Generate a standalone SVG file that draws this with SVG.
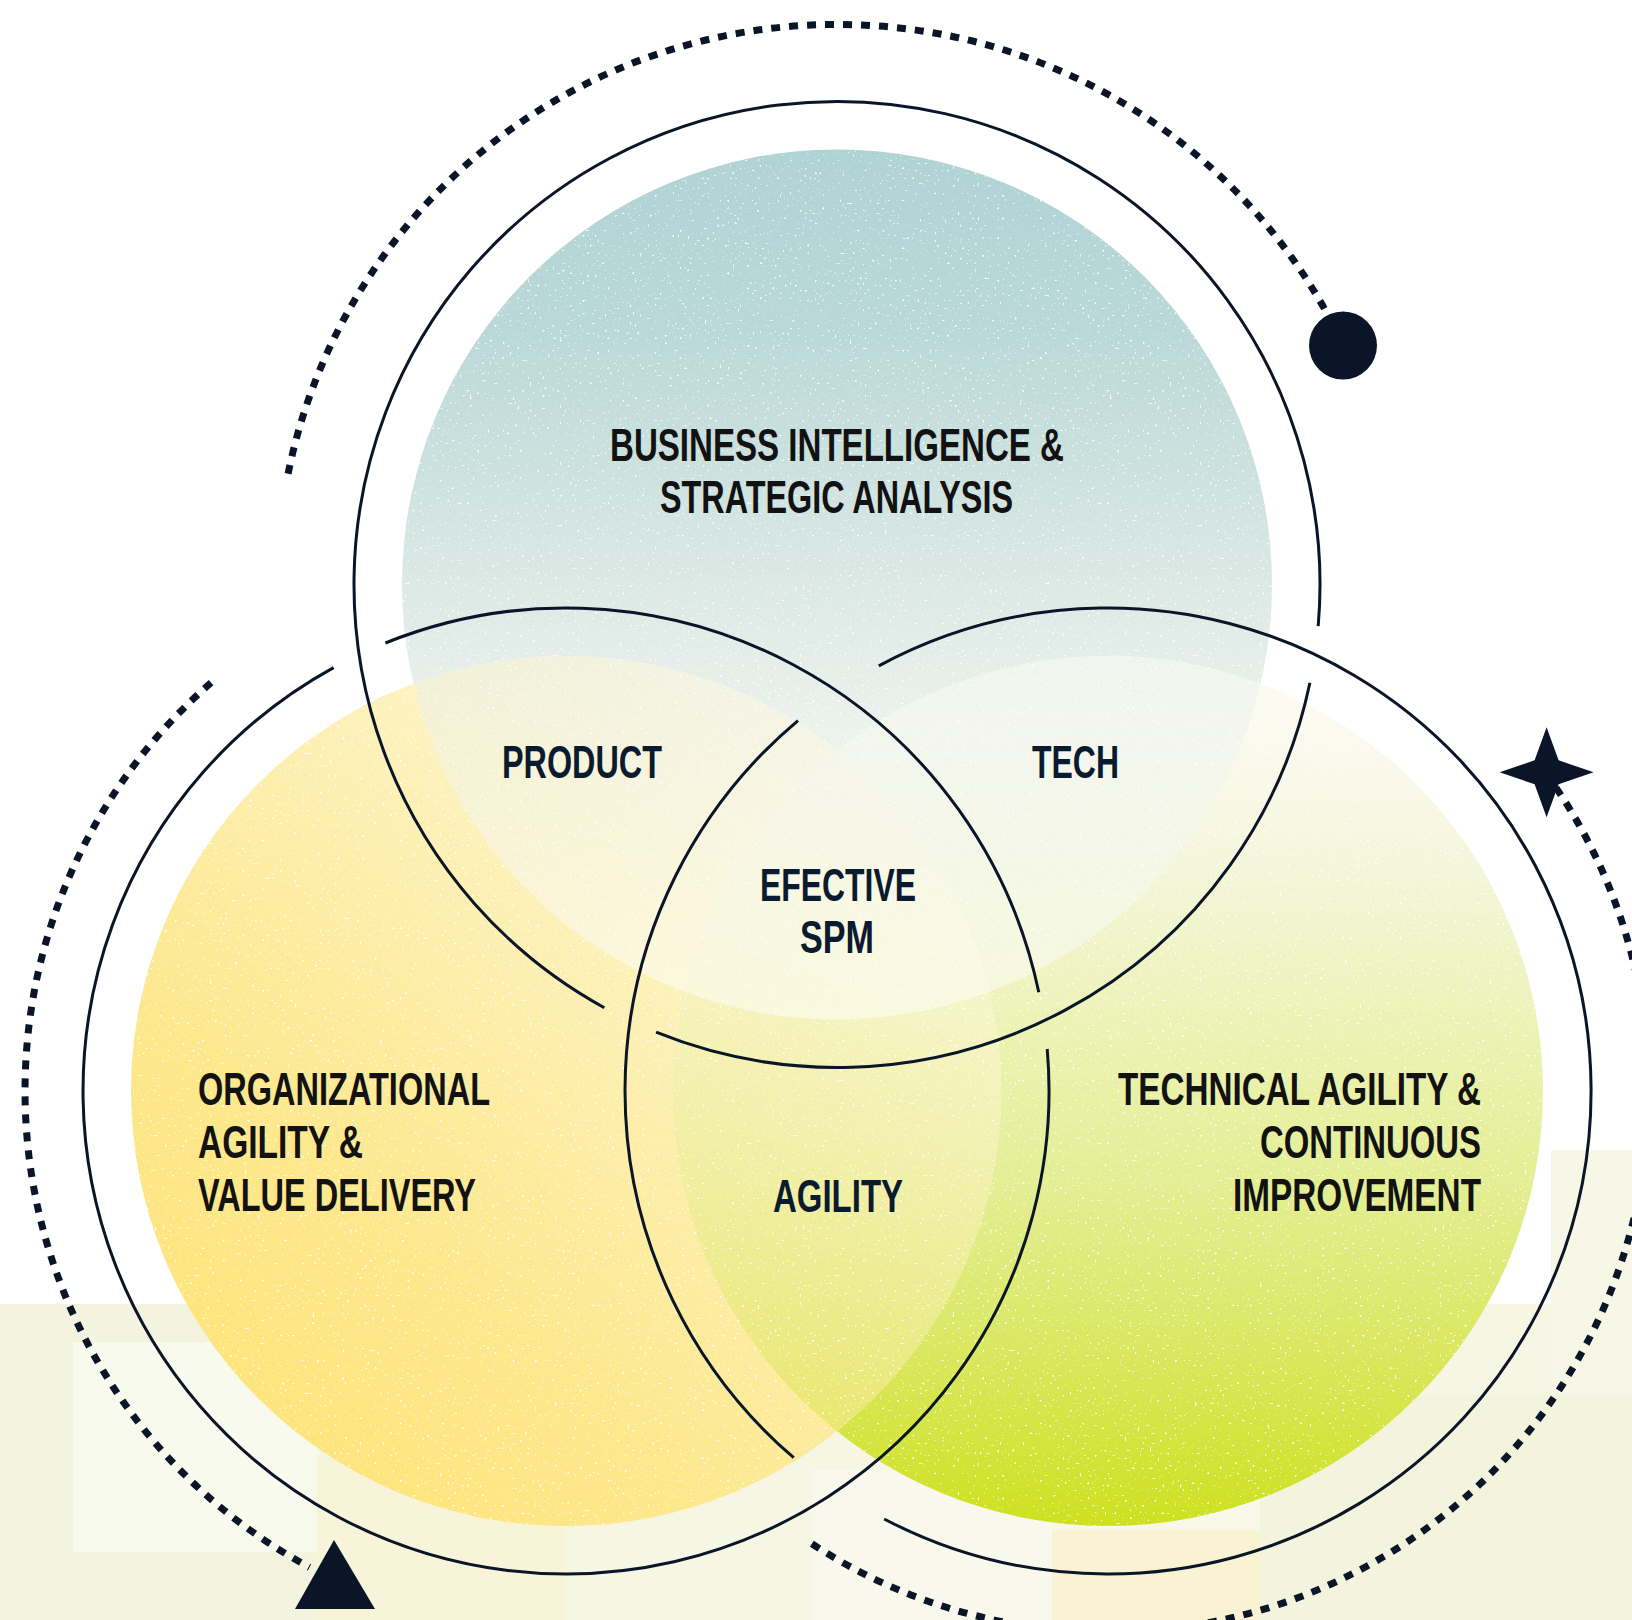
<svg xmlns="http://www.w3.org/2000/svg" width="1632" height="1620" viewBox="0 0 1632 1620">
  <style>
    .ring { fill: none; stroke: #0a1628; stroke-width: 3; stroke-linecap: butt; }
    .dots { fill: none; stroke: #0a1628; stroke-width: 7; stroke-dasharray: 9 9; }
    .mark { fill: #0a1628; }
    .title { font-family: "Liberation Sans", Arial, sans-serif; font-weight: 700; font-size: 47px; fill: #121212; }
    .lab { font-family: "Liberation Sans", Arial, sans-serif; font-weight: 700; font-size: 47px; fill: #0a1a2f; }
  </style>
  <defs>
    <linearGradient id="gTop" x1="0" y1="0" x2="0" y2="1">
      <stop offset="0" stop-color="#b0d3d4"/>
      <stop offset="0.2" stop-color="#bad8d8"/>
      <stop offset="0.36" stop-color="#cbe1de"/>
      <stop offset="0.5" stop-color="#dce9e5"/>
      <stop offset="0.65" stop-color="#ebf1ec"/>
      <stop offset="0.85" stop-color="#f7f9f3"/>
      <stop offset="1" stop-color="#ffffff"/>
    </linearGradient>
    <linearGradient id="gLeft" x1="0.9" y1="0.05" x2="0.1" y2="0.95">
      <stop offset="0" stop-color="#fffbec"/>
      <stop offset="0.4" stop-color="#fdf0b5"/>
      <stop offset="0.7" stop-color="#fde88e"/>
      <stop offset="1" stop-color="#fde377"/>
    </linearGradient>
    <linearGradient id="gRight" x1="0" y1="0" x2="0" y2="1">
      <stop offset="0" stop-color="#fdfcf5"/>
      <stop offset="0.1" stop-color="#fafaee"/>
      <stop offset="0.25" stop-color="#f3f6d9"/>
      <stop offset="0.45" stop-color="#ebf2b0"/>
      <stop offset="0.6" stop-color="#e4ee95"/>
      <stop offset="0.8" stop-color="#dae75f"/>
      <stop offset="1" stop-color="#cde11f"/>
    </linearGradient>
    <clipPath id="clipL"><circle cx="566" cy="1091" r="435"/></clipPath>
    <clipPath id="clipLR"><circle cx="566" cy="1091" r="435"/><circle cx="1108" cy="1091" r="435"/></clipPath>
    <clipPath id="clipAll"><circle cx="566" cy="1091" r="435"/><circle cx="1108" cy="1091" r="435"/><circle cx="837" cy="584.4" r="435"/></clipPath>
    <mask id="mNotL" maskUnits="userSpaceOnUse" x="0" y="0" width="1632" height="1620">
      <rect x="0" y="0" width="1632" height="1620" fill="#fff"/>
      <circle cx="566" cy="1091" r="435" fill="#000"/>
    </mask>
    <mask id="mNotLR" maskUnits="userSpaceOnUse" x="0" y="0" width="1632" height="1620">
      <rect x="0" y="0" width="1632" height="1620" fill="#fff"/>
      <circle cx="566" cy="1091" r="435" fill="#000"/>
      <circle cx="1108" cy="1091" r="435" fill="#000"/>
    </mask>
    <filter id="speck" filterUnits="userSpaceOnUse" x="0" y="0" width="1632" height="1620">
      <feTurbulence type="fractalNoise" baseFrequency="0.4" numOctaves="1" seed="11"/>
      <feColorMatrix type="matrix" values="0 0 0 0 1  0 0 0 0 1  0 0 0 0 1  0 0 0 18 -12.2"/>
    </filter>
  </defs>

  <rect x="0" y="0" width="1632" height="1620" fill="#ffffff"/>

  <g id="background">
    <rect x="0" y="1304" width="1632" height="316" fill="#f5f6e3"/>
    <rect x="0" y="1304" width="317" height="316" fill="#f3f4df"/>
    <rect x="73" y="1342" width="244" height="210" fill="#f9faee"/>
    <rect x="317" y="1457" width="249" height="163" fill="#f8f4da"/>
    <rect x="566" y="1551" width="246" height="69" fill="#f5f6e3"/>
    <rect x="812" y="1470" width="240" height="150" fill="#f8f9ec"/>
    <rect x="1052" y="1395" width="208" height="135" fill="#f7f8e8"/>
    <rect x="1052" y="1530" width="208" height="90" fill="#faf3d3"/>
    <rect x="1260" y="1395" width="372" height="225" fill="#f3f4dd"/>
    <rect x="1551" y="1150" width="81" height="245" fill="#f6f7e6"/>
  </g>

  <g id="fills">
    <circle cx="566" cy="1091" r="435" fill="url(#gLeft)"/>
    <circle cx="1108" cy="1091" r="435" fill="url(#gRight)" mask="url(#mNotL)"/>
    <circle cx="1108" cy="1091" r="435" fill="url(#gRight)" clip-path="url(#clipL)" opacity="0.5"/>
    <circle cx="837" cy="584.4" r="435" fill="url(#gTop)" mask="url(#mNotLR)"/>
    <circle cx="837" cy="584.4" r="435" fill="url(#gTop)" clip-path="url(#clipLR)" opacity="0.5"/>
  </g>

  <g id="speckle" clip-path="url(#clipAll)">
    <rect x="0" y="0" width="1632" height="1620" fill="#fff" filter="url(#speck)" opacity="0.85"/>
  </g>

  <g id="node-business-intelligence">
    <path class="ring" d="M1309.9,682.8 A483,483 0 0 1 656.1,1032.2"/>
    <path class="ring" d="M604.3,1007.7 A483,483 0 1 1 1318.2,626.1"/>
    <text class="title" x="610" y="461" textLength="454" lengthAdjust="spacingAndGlyphs">BUSINESS INTELLIGENCE &amp;</text>
    <text class="title" x="660" y="513" textLength="353" lengthAdjust="spacingAndGlyphs">STRATEGIC ANALYSIS</text>
  </g>

  <g id="node-organizational-agility">
    <path class="ring" d="M385.4,643.0 A483,483 0 0 1 1038.8,992.3"/>
    <path class="ring" d="M1047.2,1049.0 A483,483 0 1 1 333.6,667.6"/>
    <text class="title" x="198" y="1105" textLength="292" lengthAdjust="spacingAndGlyphs">ORGANIZATIONAL</text>
    <text class="title" x="198" y="1158" textLength="165" lengthAdjust="spacingAndGlyphs">AGILITY &amp;</text>
    <text class="title" x="198" y="1211" textLength="278" lengthAdjust="spacingAndGlyphs">VALUE DELIVERY</text>
  </g>

  <g id="node-technical-agility">
    <path class="ring" d="M793.7,1457.7 A483,483 0 0 1 798.0,720.6"/>
    <path class="ring" d="M878.8,665.9 A483,483 0 1 1 884.2,1519.0"/>
    <text class="title" x="1118" y="1105" textLength="363" lengthAdjust="spacingAndGlyphs">TECHNICAL AGILITY &amp;</text>
    <text class="title" x="1260" y="1158" textLength="221" lengthAdjust="spacingAndGlyphs">CONTINUOUS</text>
    <text class="title" x="1233" y="1211" textLength="248" lengthAdjust="spacingAndGlyphs">IMPROVEMENT</text>
  </g>

  <g id="overlap-product">
    <text class="lab" x="502" y="778" textLength="160" lengthAdjust="spacingAndGlyphs">PRODUCT</text>
  </g>
  <g id="overlap-tech">
    <text class="lab" x="1032" y="778" textLength="87" lengthAdjust="spacingAndGlyphs">TECH</text>
  </g>
  <g id="overlap-effective-spm">
    <text class="lab" x="760" y="901" textLength="156" lengthAdjust="spacingAndGlyphs">EFECTIVE</text>
    <text class="lab" x="800" y="953" textLength="74" lengthAdjust="spacingAndGlyphs">SPM</text>
  </g>
  <g id="overlap-agility">
    <text class="lab" x="773" y="1212" textLength="130" lengthAdjust="spacingAndGlyphs">AGILITY</text>
  </g>

  <g id="connectors">
    <path class="dots" d="M288.1,473.7 A560,560 0 0 1 1343.3,345.1"/>
    <path class="dots" d="M211.1,682.7 A541,541 0 0 0 309.5,1567.3"/>
    <path class="dots" d="M1545.7,773.0 A541,541 0 0 1 810.2,1542.7"/>
  </g>

  <g id="marker-dot">
    <circle class="mark" cx="1343" cy="345.5" r="34"/>
  </g>
  <g id="marker-star">
    <path class="mark" d="M1546.6,727.3 L1558.6,760.3 L1593.6,772.3 L1558.6,784.3 L1546.6,817.3 L1534.6,784.3 L1499.6,772.3 L1534.6,760.3 Z"/>
  </g>
  <g id="marker-triangle">
    <path class="mark" d="M334,1540 L375,1609 L295,1609 Z"/>
  </g>
</svg>
